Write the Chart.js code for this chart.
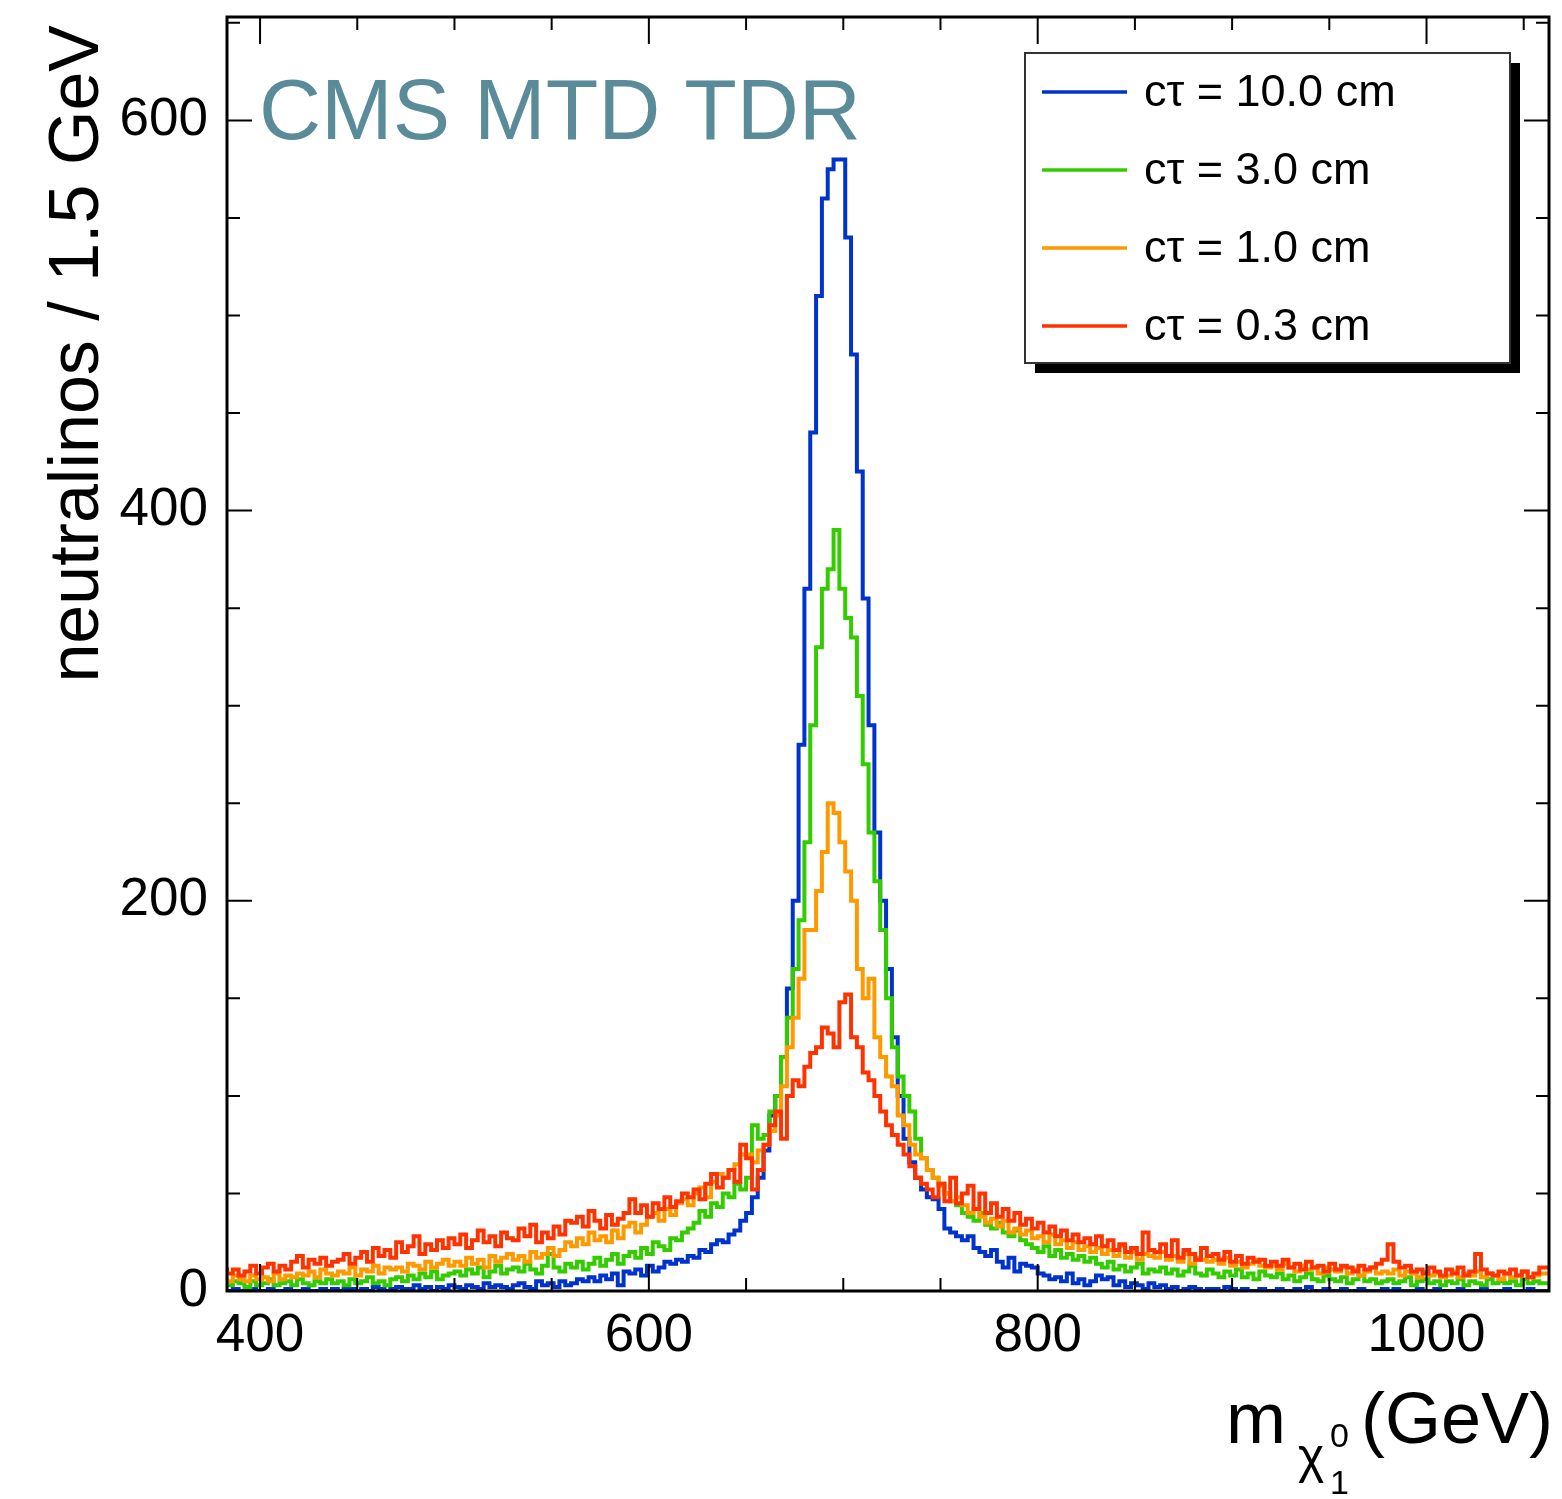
<!DOCTYPE html>
<html>
<head>
<meta charset="utf-8">
<script src="https://cdn.jsdelivr.net/npm/chart.js@4.4.1/dist/chart.umd.min.js"></script>
<style>
  body { margin: 0; background: #fff; }
  canvas { display: block; }
</style>
</head>
<body>
<canvas id="massChart" width="1562" height="1499"></canvas>
<script>
// histogram binning (GeV)
const binStart = 383;
const binWidth = 3;

const xTickLabels = [400, 600, 800, 1000];
const yTickLabels = [0, 200, 400, 600];

const seriesLabels = ['cτ = 10.0 cm', 'cτ = 3.0 cm', 'cτ = 1.0 cm', 'cτ = 0.3 cm'];
const seriesColors = ['#0033cc', '#33cc00', '#ff9900', '#ff3300'];

// neutralinos per bin
const ct10Counts = [
  1,0,1,0,0,1,0,0,1,0,
  0,1,0,0,1,0,0,1,0,1,
  0,1,1,0,1,0,2,1,0,1,
  2,1,1,3,1,2,0,2,1,3,
  2,1,3,2,1,4,2,3,2,1,
  3,4,2,1,5,3,4,2,5,3,
  4,6,5,7,5,8,6,9,3,10,
  9,11,8,13,10,12,15,14,16,15,
  18,17,21,20,24,26,25,29,31,36,
  40,48,58,72,90,100,120,155,200,280,
  360,440,510,560,575,580,580,540,480,420,
  355,290,235,200,165,130,100,78,66,58,
  52,48,47,42,32,30,28,26,28,22,
  20,18,21,15,12,17,10,14,13,12,
  9,8,6,7,5,9,4,6,3,5,
  8,6,7,3,5,2,4,3,1,4,
  2,3,1,2,0,1,2,1,0,1,
  1,0,2,1,0,1,0,0,1,0,
  0,1,0,0,1,0,2,0,0,1,
  0,0,1,0,0,1,0,0,0,1,
  0,1,0,0,0,1,0,0,1,0,
  0,0,1,0,0,0,1,0,0,0,
  1,0,0,0,1,0,0
];

const ct3Counts = [
  4,3,5,4,2,5,3,4,6,3,
  4,5,3,6,4,3,5,4,6,4,
  5,3,6,4,5,7,4,5,3,6,
  7,5,8,6,9,7,10,6,8,9,
  10,8,11,9,12,7,10,13,9,11,
  12,10,14,11,9,13,19,12,10,14,
  12,15,11,14,17,13,16,19,14,18,
  20,17,22,19,25,23,21,27,26,30,
  32,35,41,38,45,43,50,48,55,52,
  58,85,78,80,92,100,120,140,165,190,
  230,290,330,360,370,390,360,345,335,305,
  270,235,210,185,150,125,110,100,92,78,
  68,62,58,55,50,46,44,40,38,36,
  40,34,32,35,30,28,31,26,24,22,
  20,23,18,21,17,19,16,18,15,17,
  14,12,15,11,13,10,12,14,9,11,
  10,12,9,11,8,10,13,9,8,11,
  9,7,10,8,11,7,9,6,10,8,
  7,9,6,8,5,7,9,6,5,8,
  6,5,7,4,6,8,5,6,4,5,
  6,4,5,7,3,5,6,4,5,3,
  5,4,6,3,5,4,3,6,4,5,
  4,5,3,6,4,5,4
];

const ct1Counts = [
  7,5,8,6,5,8,6,7,5,9,
  6,8,7,9,8,10,7,11,9,8,
  10,9,12,8,11,10,13,9,12,11,
  12,10,14,13,11,15,12,14,16,13,
  15,13,17,14,16,12,18,15,17,19,
  16,18,15,20,17,19,22,18,21,25,
  23,27,24,30,26,28,25,31,27,33,
  35,30,34,38,40,36,42,39,45,47,
  44,50,53,48,56,60,58,62,65,70,
  70,66,72,75,82,90,105,125,140,160,
  185,185,205,225,250,245,230,215,200,165,
  150,160,130,120,110,105,90,85,75,70,
  68,62,58,54,50,46,48,44,40,42,
  38,35,37,33,36,30,32,29,31,27,
  28,25,29,24,26,22,25,21,23,20,
  22,19,21,18,23,17,20,16,19,18,
  17,20,16,18,15,19,14,17,16,15,
  16,14,17,13,15,12,14,16,13,12,
  13,11,14,12,10,13,11,12,9,12,
  11,10,12,9,11,8,10,12,9,10,
  9,11,8,10,9,7,10,8,9,7,
  8,10,7,9,8,10,7,9,8,6,
  9,7,8,10,7,8,9
];

const ct03Counts = [
  12,9,11,8,10,13,9,12,14,10,
  13,11,15,18,12,16,14,17,13,15,
  16,19,14,17,20,15,22,18,21,17,
  25,20,23,28,19,24,21,26,22,27,
  24,29,22,26,31,25,28,23,30,27,
  26,32,28,34,25,30,27,33,29,36,
  35,38,33,41,36,32,39,34,37,40,
  47,40,44,38,45,42,48,43,46,50,
  48,52,47,55,60,53,58,62,56,75,
  68,52,62,75,85,92,78,100,108,105,
  115,122,125,135,132,125,148,152,130,125,
  112,108,100,92,85,80,75,70,64,58,
  55,52,48,55,46,58,45,50,54,42,
  50,40,45,38,42,36,40,34,37,32,
  35,30,33,28,31,26,29,25,27,24,
  28,23,26,21,24,20,22,19,30,21,
  20,24,18,26,17,21,19,16,22,18,
  19,16,20,15,18,14,17,15,16,13,
  15,13,16,12,14,11,15,12,13,10,
  14,11,13,12,10,13,11,12,14,16,
  24,15,12,13,10,11,9,12,10,8,
  11,9,12,8,10,19,11,9,8,10,
  9,11,8,10,7,9,12
];

const FONT = '"Liberation Sans", Arial, Helvetica, sans-serif';

// left bin edges plus the closing right edge, for a stepped outline
function histPoints(counts) {
  const pts = counts.map((c, i) => ({ x: binStart + i * binWidth, y: c }));
  pts.push({ x: binStart + counts.length * binWidth, y: counts[counts.length - 1] });
  return pts;
}

// ROOT-like frame with inward ticks on all four sides
const frameTicks = {
  id: 'frameTicks',
  afterDatasetsDraw(chart) {
    const { ctx, chartArea: a, scales: { x, y } } = chart;
    ctx.save();
    ctx.strokeStyle = '#000';
    ctx.lineWidth = 2;
    ctx.beginPath();
    x.ticks.forEach(t => {
      if (t.value % 50 !== 0) return;
      const px = x.getPixelForValue(t.value);
      const len = t.value % 200 === 0 ? 27 : 13;
      ctx.moveTo(px, a.bottom); ctx.lineTo(px, a.bottom - len);
      ctx.moveTo(px, a.top); ctx.lineTo(px, a.top + len);
    });
    y.ticks.forEach(t => {
      if (t.value % 50 !== 0) return;
      const py = y.getPixelForValue(t.value);
      const len = t.value % 200 === 0 ? 25 : 13;
      ctx.moveTo(a.left, py); ctx.lineTo(a.left + len, py);
      ctx.moveTo(a.right, py); ctx.lineTo(a.right - len, py);
    });
    ctx.stroke();
    ctx.lineWidth = 3;
    ctx.strokeRect(a.left, a.top, a.width, a.height);
    ctx.restore();
  },
  afterDraw(chart) {
    const ctx = chart.ctx;
    ctx.save();

    // watermark label
    ctx.fillStyle = '#5a8b98';
    ctx.font = '86px ' + FONT;
    ctx.textAlign = 'left';
    ctx.textBaseline = 'alphabetic';
    ctx.fillText('CMS MTD TDR', 259, 139);

    // legend box with drop shadow
    const lx = 1025, ly = 53, lw = 485, lh = 310;
    ctx.fillStyle = '#000';
    ctx.fillRect(lx + 10, ly + 10, lw, lh);
    ctx.fillStyle = '#fff';
    ctx.fillRect(lx, ly, lw, lh);
    ctx.strokeStyle = '#333';
    ctx.lineWidth = 2;
    ctx.strokeRect(lx, ly, lw, lh);
    ctx.font = '45px ' + FONT;
    ctx.textBaseline = 'middle';
    chart.data.datasets.forEach((ds, i) => {
      const ey = 92 + i * 78;
      ctx.strokeStyle = ds.borderColor;
      ctx.lineWidth = 3.5;
      ctx.beginPath();
      ctx.moveTo(1042, ey); ctx.lineTo(1127, ey);
      ctx.stroke();
      ctx.fillStyle = '#000';
      ctx.fillText(ds.label, 1144, ey + 2);
    });

    // y axis title, aligned to the top end
    ctx.fillStyle = '#000';
    ctx.save();
    ctx.translate(98, 25);
    ctx.rotate(-Math.PI / 2);
    ctx.font = '70px ' + FONT;
    ctx.textAlign = 'right';
    ctx.textBaseline = 'alphabetic';
    ctx.fillText('neutralinos / 1.5 GeV', 0, 0);
    ctx.restore();

    // x axis title, aligned to the right end
    ctx.textBaseline = 'alphabetic';
    ctx.textAlign = 'left';
    ctx.font = '72px ' + FONT;
    ctx.fillText('m', 1226, 1443);
    ctx.font = '50px ' + FONT;
    ctx.fillText('χ', 1298, 1473);
    ctx.font = '34px ' + FONT;
    ctx.fillText('0', 1330, 1447);
    ctx.fillText('1', 1330, 1494);
    ctx.textAlign = 'right';
    ctx.font = '72px ' + FONT;
    ctx.fillText('(GeV)', 1553, 1443);

    ctx.restore();
  }
};

const rawSeries = [ct10Counts, ct3Counts, ct1Counts, ct03Counts];

new Chart(document.getElementById('massChart'), {
  type: 'line',
  data: {
    datasets: rawSeries.map((counts, i) => ({
      label: seriesLabels[i],
      data: histPoints(counts),
      borderColor: seriesColors[i],
      borderWidth: 4,
      pointRadius: 0,
      fill: false,
      stepped: 'after',
      order: rawSeries.length - i
    }))
  },
  options: {
    responsive: false,
    animation: false,
    events: [],
    layout: { padding: { top: 17, right: 13, left: 0, bottom: 0 } },
    plugins: {
      legend: { display: false },
      tooltip: { enabled: false }
    },
    scales: {
      x: {
        type: 'linear',
        min: 383,
        max: 1063,
        afterFit: s => { s.height = 208; s.paddingLeft = 0; s.paddingRight = 0; },
        grid: { display: false, drawTicks: false },
        border: { display: false },
        ticks: {
          stepSize: 50,
          includeBounds: false,
          autoSkip: false,
          maxRotation: 0,
          padding: 14,
          color: '#000',
          font: { family: FONT, size: 53 },
          callback: v => xTickLabels.includes(v) ? String(v) : ''
        }
      },
      y: {
        min: 0,
        max: 653,
        afterFit: s => { s.width = 227; s.paddingTop = 0; s.paddingBottom = 0; },
        grid: { display: false, drawTicks: false },
        border: { display: false },
        ticks: {
          stepSize: 50,
          includeBounds: false,
          autoSkip: false,
          padding: 19,
          color: '#000',
          font: { family: FONT, size: 53 },
          callback: v => yTickLabels.includes(v) ? String(v) : ''
        }
      }
    }
  },
  plugins: [frameTicks]
});
</script>
</body>
</html>
